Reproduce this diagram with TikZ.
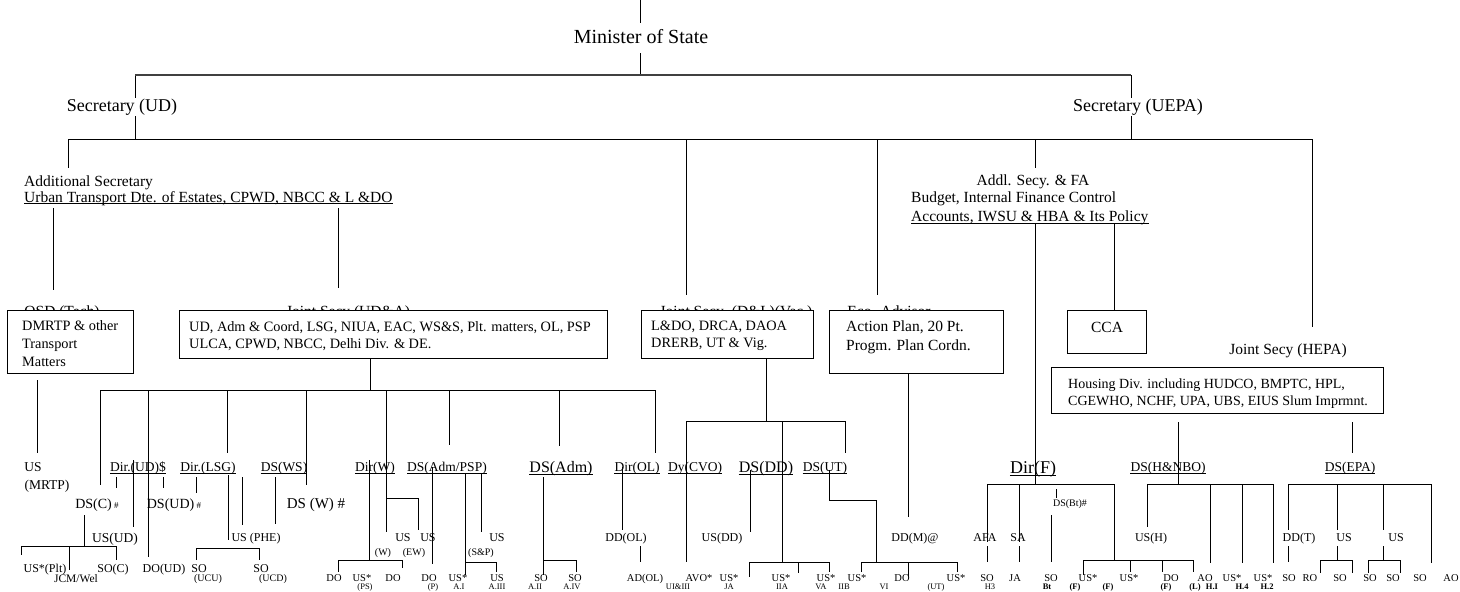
\documentclass[tikz,border=0pt]{standalone}
\usepackage{fontspec}
\setmainfont{Liberation Serif}

\begin{document}
\begin{tikzpicture}
  [x=1pt,y=-1pt,
   every node/.style={inner sep=0pt,anchor=base},
   wire/.style={line width=.8pt},
   box/.style={draw,fill=white,line width=1pt,anchor=north west,inner sep=0pt},
   ul/.style={append after command={([yshift=-#1]\tikzlastnode.base west)
       edge[line width=.6pt] ([yshift=-#1]\tikzlastnode.base east)}},
   ul/.default=2.5pt,
   sz20/.style={font=\fontsize{20}{24}\selectfont},
   sz18/.style={font=\fontsize{18}{21}\selectfont},
   sz16/.style={font=\fontsize{16}{19}\selectfont},
   sz155/.style={font=\fontsize{15.5}{18}\selectfont},
   sz15/.style={font=\fontsize{15}{18}\selectfont},
   sz14/.style={font=\fontsize{14}{17}\selectfont},
   sz143/.style={font=\fontsize{14.3}{17}\selectfont},
   sz135/.style={font=\fontsize{13.5}{16}\selectfont},
   sz12/.style={font=\fontsize{12}{14}\selectfont},
   sz115/.style={font=\fontsize{11.5}{14}\selectfont},
   sz105/.style={font=\fontsize{10.5}{12}\selectfont},
   sz10/.style={font=\fontsize{10}{12}\selectfont},
   sz9/.style={font=\fontsize{8.5}{10}\selectfont}]
  \useasboundingbox (0,0) rectangle (1460,592);

  % reporting lines, vertical: name/x/top/bottom
  \foreach \n/\x/\ya/\yb in {top/640/0/75,
      sud/135/75/139, suepa/1131/75/139,
      as/68/139/168, jdl/686/139/295, eco/877/139/295, fa/1035/139/168, hepa/1312/139/327,
      osd/53/208/290, jua/338/208/288, dirf/1035/224/484, cca/1114/224/310,
      mrtp/37/380/453, uda/370/358/390,
      dsc/100/390/485, dirud/148/390/557, dirlsg/227/390/453, dsws/306/390/485,
      dirw/386/390/532, admpsp/449/390/445, adm/559/390/446, dirol/655/390/453,
      x116/116/477/488, x163/163/477/488, x196/196/477/493, usud/133/460/527,
      x228/228/475/540, x242/242/477/525, x275/275/477/524,
      dscd/84/515/546, plt/21/546/555, jcm/69/546/570, soc/116/546/560,
      ucu/196/548/560, ucd/259/548/560,
      dirwd/369/460/560, dow1/338/560/572, dow2/402/560/568, ew/418/498/530,
      dop/432/467/564, ai/465/473/575, sp/481/473/532, aiii/496/562/572,
      aii/543/477/575, aiv/576/560/572, ddol/622/467/530, adol/640/546/562,
      dlb/766/358/421, cvo/686/421/562, dd/782/421/562, ut/845/421/453,
      usdd/750/470/532, dd1/749/562/577, dd2/798/562/573, dd3/829/562/572,
      utd1/829/470/500, utd2/876/500/562, iib/861/562/572, vi/908/562/577, utd3/957/562/572,
      ddm/908/373/517,
      afa/987/484/542, sa/1019/484/542, bt0/1056/489/498, dirfr/1114/484/560,
      h3/987/546/562, ja/1019/546/562, bt/1051/515/562,
      f1/1083/560/575, f2/1130/560/572, f3/1162/560/572, l/1193/560/572,
      hnbo/1178/422/484, ush/1147/484/527, hi/1210/484/563, h4/1242/484/563, h2/1273/484/563,
      epa/1352/422/453, ddt/1288/484/530, usa/1337/484/530, usb/1383/484/530, so9/1431/484/563,
      ddtd/1288/546/562, usad/1337/546/560, ro/1320/560/573, so6/1352/560/573,
      usbd/1383/546/560, so7/1368/560/573, so8/1400/560/573}{
    \coordinate (\n-t) at (\x,\ya);
    \coordinate (\n-b) at (\x,\yb);
    \draw[wire] (\n-t) -- (\n-b);
  }

  % reporting lines, horizontal: name/left/right/y
  \foreach \n/\xa/\xb/\y in {l1/68/1312/139, uda/100/655/390, dsc/21/117/546,
      ucu/196/259/548, dirw/338/402/560, ew/386/418/498, aiii/465/496/562,
      aiv/543/576/560, dl/686/845/421, dd/749/829/562, ut1/829/876/500,
      ut2/861/957/562, dirf/987/1114/484, dirf2/1083/1193/560,
      hnbo/1147/1273/484, epa/1288/1431/484, usa/1320/1352/560, usb/1368/1400/560}{
    \coordinate (\n-l) at (\xa,\y);
    \coordinate (\n-r) at (\xb,\y);
    \draw[wire] (\n-l) -- (\n-r);
  }
  \coordinate (sec-l) at (135,75);
  \coordinate (sec-r) at (1131,75);
  \draw[line width=1.6pt,black!75] (sec-l) -- (sec-r);

  % top levels
  \node[sz20,fill=white,text height=14pt,text depth=4pt,inner ysep=6pt] (minister) at (641,43) {Minister of State};
  \node[sz18,fill=white,inner sep=1pt] (secud) at (122,111) {Secretary (UD)};
  \node[sz18,fill=white,inner sep=1pt] (secuepa) at (1138,111) {Secretary (UEPA)};

  \node[sz155,anchor=base west] (addl1) at (24,186) {Additional Secretary};
  \node[sz155,anchor=base west,ul=1.5pt] (addl2) at (24,202) {Urban Transport Dte. of Estates, CPWD, NBCC \& L \&DO\hspace{7pt}};
  \node[sz155] (fa1) at (1033,185) {Addl. Secy. \& FA};
  \node[sz155,anchor=base west] (fa2) at (911,202) {Budget, Internal Finance Control};
  \node[sz155,anchor=base west,ul=2pt] (fa3) at (911,221) {Accounts, IWSU \& HBA \& Its Policy};

  % joint secretaries and their boxes
  \node[sz155] (osdlbl) at (62,316) {OSD (Tech)};
  \node[sz155] (jsudalbl) at (348,316) {Joint Secy (UD\&A)};
  \node[sz155] (jsdllbl) at (736,316) {Joint Secy. (D\&L)(Vac.)};
  \node[sz155] (ecolbl) at (889,316) {Eco. Advisor};
  \node[sz155] (hepalbl) at (1288,354) {Joint Secy (HEPA)};

  \node[box,minimum width=126,minimum height=63] (osdbox) at (7,310) {};
  \node[box,minimum width=428,minimum height=48] (udabox) at (179,310) {};
  \node[box,minimum width=172,minimum height=48] (dlbox) at (641,310) {};
  \node[box,minimum width=174,minimum height=63] (ecobox) at (829,310) {};
  \node[box,minimum width=79,minimum height=43] (ccabox) at (1067,310) {};
  \node[box,minimum width=332,minimum height=46] (hsgbox) at (1051,367) {};

  \node[sz143,anchor=base west] (osdt1) at (22,330) {DMRTP \& other};
  \node[sz143,anchor=base west] (osdt2) at (22,348) {Transport};
  \node[sz143,anchor=base west] (osdt3) at (22,366) {Matters};
  \node[sz143,anchor=base west] (udat1) at (189,331) {UD, Adm \& Coord, LSG, NIUA, EAC, WS\&S, Plt. matters, OL, PSP};
  \node[sz143,anchor=base west] (udat2) at (189,348) {ULCA, CPWD, NBCC, Delhi Div. \& DE.};
  \node[sz143,anchor=base west] (dlt1) at (651,330) {L\&DO, DRCA, DAOA};
  \node[sz143,anchor=base west] (dlt2) at (651,347) {DRERB, UT \& Vig.};
  \node[sz155,anchor=base west] (ecot1) at (846,331) {Action Plan, 20 Pt.};
  \node[sz155,anchor=base west] (ecot2) at (846,350) {Progm. Plan Cordn.};
  \node[sz155] (ccat) at (1107,332) {CCA};
  \node[sz14,anchor=base west] (hsgt1) at (1068,388) {Housing Div. including HUDCO, BMPTC, HPL,};
  \node[sz14,anchor=base west] (hsgt2) at (1068,405) {CGEWHO, NCHF, UPA, UBS, EIUS Slum Imprmnt.};

  % directors and deputy secretaries
  \node[sz135] (us0) at (33,471) {US};
  \node[sz135] (mrtp) at (47,489) {(MRTP)};
  \foreach \n/\x/\t in {dirud/138/Dir.(UD)\$, dirlsg/208/Dir.(LSG), dsws/284/DS(WS),
      dirw/375/Dir(W), dsadmpsp/447/{DS(Adm/PSP)}, dirol/637/Dir(OL), dycvo/695/Dy(CVO),
      dsut/825/DS(UT), dshnbo/1168/DS(H\&NBO), dsepa/1350/DS(EPA)}
    \node[sz135,ul] (\n) at (\x,471) {\t};
  \node[sz16,ul] (dsadm) at (561,472) {DS(Adm)};
  \node[sz16,ul] (dsdd) at (766,472) {DS(DD)};
  \node[sz18,ul] (dirfl) at (1033,473) {Dir(F)};

  \node[sz14] (dsc) at (97,508) {DS(C)\,{\fontsize{9}{9}\selectfont\#}};
  \node[sz14] (dsud) at (174,508) {DS(UD)\,{\fontsize{9}{9}\selectfont\#}};
  \node[sz15] (dsw) at (316,508) {DS (W) \#};
  \node[sz10] (dsbt) at (1070,506) {DS(Bt)\#};

  % under secretaries
  \node[sz135] (usud) at (115,542) {US(UD)};
  \foreach \n/\x/\t in {usphe/256/US (PHE), usw/403/US, usew/428/US, ussp/497/US,
      ddol/626/DD(OL), usdd/722/US(DD), ddm/915/DD(M)@, afa/985/AFA, sa/1018/SA,
      ush/1151/US(H), ddt/1299/DD(T), usa/1344/US, usb/1396/US}
    \node[sz12] (\n) at (\x,541) {\t};
  \foreach \n/\x/\t in {w/383/(W), ew/414/(EW), snp/481/(S\&P)}
    \node[sz10] (\n) at (\x,555) {\t};

  % sections
  \foreach \n/\x/\t in {usplt/45/US*(Plt), soc/113/SO(C), doud/164/DO(UD),
      soucu/199/SO, soucd/261/SO}
    \node[sz12] (\n) at (\x,572) {\t};
  \node[sz10] (ucu) at (208,581) {(UCU)};
  \node[sz10] (ucd) at (273,581) {(UCD)};
  \node[sz115] (jcmwel) at (76,582) {JCM/Wel};
  \foreach \n/\x/\t in {do1/334/DO, us1s/362/US*, do2/393/DO, do3/429/DO, us2/458/US*,
      us3/497/US, so1/541/SO, so2/575/SO, adol/645/AD(OL), avo/699/AVO*, us4/729/US*,
      us5/781/US*, us6/826/US*, us7/857/US*, do4/902/DO, us8/956/US*, so3/987/SO,
      ja2/1015/JA, so4/1051/SO, us9/1088/US*, us10/1129/US*, do5/1171/DO, ao1/1205/AO,
      us11/1232/US*, us12/1263/US*, so5/1289/SO, ro/1310/RO, so6/1340/SO, so7/1370/SO,
      so8/1393/SO, so9/1420/SO, ao2/1451/AO}
    \node[sz105] (\n) at (\x,581) {\t};
  \foreach \n/\x/\t in {subps/365/(PS), subp/433/(P), subai/459/A.I, subaiii/497/A.III,
      subaii/535/A.II, subaiv/572/A.IV, subuiii/678/UI\&III, subja/729/JA, subiia/782/IIA,
      subva/821/VA, subiib/844/IIB, subvi/884/VI, subut/936/(UT), subh3/990/H3,
      subbt/1047/{\bfseries Bt}, subf1/1075/{\bfseries(F)}, subf2/1108/{\bfseries(F)},
      subf3/1166/{\bfseries(F)}, subl/1195/{\bfseries(L)}, subhi/1212/{\bfseries H.I},
      subh4/1242/{\bfseries H.4}, subh2/1267/{\bfseries H.2}}
    \node[sz9] (\n) at (\x,589.8) {\t};
\end{tikzpicture}
\end{document}
